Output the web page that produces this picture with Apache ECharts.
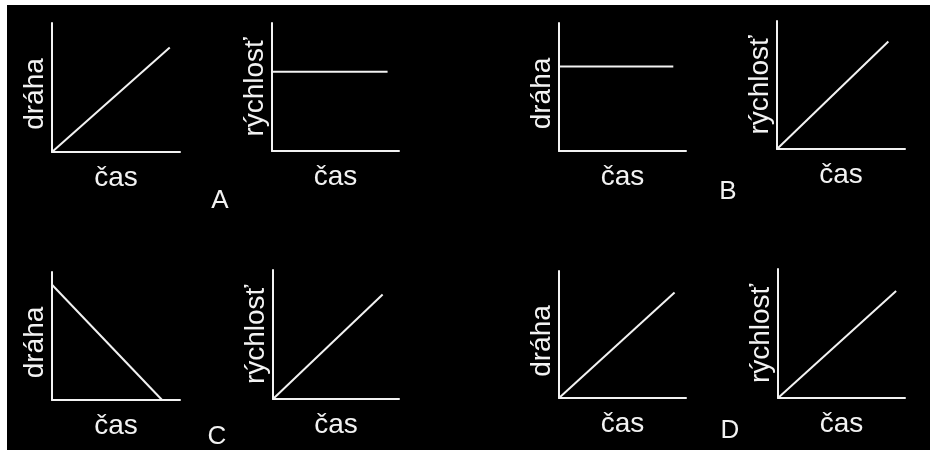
<!DOCTYPE html>
<html>
<head>
<meta charset="utf-8">
<script src="https://cdn.jsdelivr.net/npm/echarts@6/dist/echarts.min.js"></script>
<style>
  html, body { margin: 0; background: #fff; }
  #chart { width: 930px; height: 450px; }
</style>
</head>
<body>
<div id="chart"></div>
<script>
  // popisky
  const answerLetters = ['A', 'B', 'C', 'D'];
  const timeName = 'čas';
  const distName = 'dráha';
  const speedName = 'rýchlosť';

  // hodnoty v % délky osy (x: čas, y: veličina)
  const distA = [[0, 0], [92, 81]];
  const speedA = [[0, 62], [91, 62]];
  const distB = [[0, 66], [90, 66]];
  const speedB = [[0, 0], [87, 84]];
  const distC = [[0, 90], [86, 0]];
  const speedC = [[0, 0], [87, 81]];
  const distD = [[0, 0], [91, 83]];
  const speedD = [[0, 0], [93, 83]];

  const FONT = 'Liberation Sans, Arial, sans-serif';
  const WHITE = '#f2f2f2';

  // rozmístění malých grafů
  const panels = [
    { box: [52, 23, 128, 129], yName: distName, data: distA },
    { box: [272, 23, 127, 128], yName: speedName, data: speedA },
    { box: [559, 23, 127, 128], yName: distName, data: distB },
    { box: [777, 21, 128, 128], yName: speedName, data: speedB },
    { box: [52, 272, 128, 128], yName: distName, data: distC },
    { box: [273, 270, 126, 129], yName: speedName, data: speedC },
    { box: [559, 271, 127, 127], yName: distName, data: distD },
    { box: [778, 269, 127, 129], yName: speedName, data: speedD },
  ];
  const letterPos = [[220, 201], [728, 192], [217, 437], [730, 431]];

  const axisBase = {
    type: 'value',
    min: 0,
    max: 100,
    axisLine: { show: true, lineStyle: { color: WHITE, width: 2 } },
    axisTick: { show: false },
    axisLabel: { show: false },
    splitLine: { show: false },
    nameLocation: 'middle',
    nameTextStyle: { color: WHITE, fontSize: 28, fontFamily: FONT },
  };

  const grid = [], xAxis = [], yAxis = [], series = [];
  panels.forEach((p, i) => {
    grid.push({ left: p.box[0], top: p.box[1], width: p.box[2], height: p.box[3] });
    xAxis.push(Object.assign({}, axisBase, { gridIndex: i, name: timeName, nameGap: 12 }));
    // "dráha" je v originálu trochu posunutá dolů
    const nameStyle = Object.assign({}, axisBase.nameTextStyle,
      p.yName === distName ? { padding: [0, 13, 0, 0] } : {});
    yAxis.push(Object.assign({}, axisBase, {
      gridIndex: i, name: p.yName, nameGap: 3, nameRotate: 90, nameTextStyle: nameStyle,
    }));
    series.push({
      type: 'line',
      xAxisIndex: i,
      yAxisIndex: i,
      data: p.data,
      symbol: 'none',
      silent: true,
      lineStyle: { color: WHITE, width: 2 },
    });
  });

  const chart = echarts.init(document.getElementById('chart'));
  chart.setOption({
    animation: false,
    backgroundColor: '#fff',
    graphic: {
      z: -100,
      elements: [
        { type: 'rect', shape: { x: 7, y: 5, width: 923, height: 445 }, style: { fill: '#000' }, z: -100 },
      ].concat(answerLetters.map((t, i) => ({
        type: 'text',
        x: letterPos[i][0],
        y: letterPos[i][1],
        style: { text: t, fill: WHITE, font: '26px ' + FONT, textAlign: 'center', textVerticalAlign: 'middle' },
      }))),
    },
    grid: grid,
    xAxis: xAxis,
    yAxis: yAxis,
    series: series,
  });
</script>
</body>
</html>
